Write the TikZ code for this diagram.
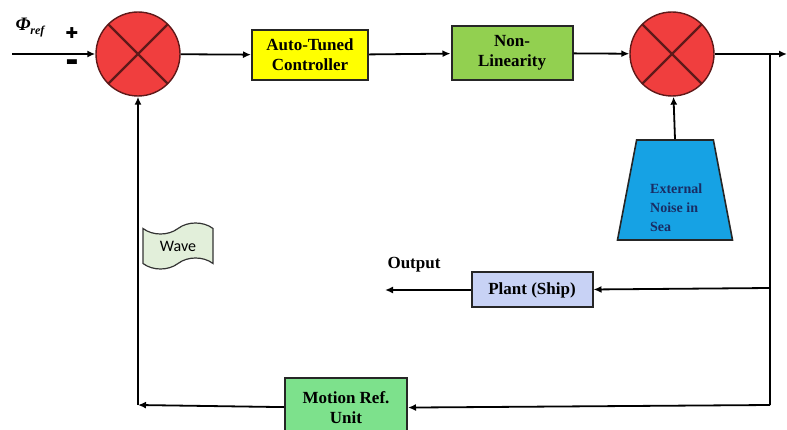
\documentclass[tikz,border=0pt]{standalone}
\usepackage{fontspec}
\setmainfont{Liberation Serif}
\newfontfamily\wavefont{Carlito}
\newfontfamily\symfont{DejaVu Sans}
\usetikzlibrary{arrows.meta, shapes.geometric, shapes.symbols, positioning}

\definecolor{sumred}{RGB}{240,62,62}
\definecolor{sumedge}{RGB}{95,25,25}
\definecolor{ctrlyellow}{RGB}{255,255,0}
\definecolor{nlgreen}{RGB}{146,208,80}
\definecolor{noiseblue}{RGB}{22,162,228}
\definecolor{noisetext}{RGB}{25,45,100}
\definecolor{plantblue}{RGB}{200,210,245}
\definecolor{motiongreen}{RGB}{125,225,140}
\definecolor{wavegreen}{RGB}{226,239,218}

\begin{document}
\begin{tikzpicture}[x=1pt, y=-1pt, font=\bfseries\fontsize{17}{20}\selectfont,
    sumnode/.style={circle, draw=sumedge, fill=sumred, line width=1.4pt,
        minimum size=84pt, inner sep=0pt,
        path picture={\draw[line width=2.2pt, sumedge]
            (path picture bounding box.north west) -- (path picture bounding box.south east)
            (path picture bounding box.north east) -- (path picture bounding box.south west);}},
    block/.style={draw=black!85, line width=2pt, align=center, inner sep=2pt},
    signal/.style={-{Latex[length=8pt,width=7pt]}, line width=1.8pt}]

\useasboundingbox (0,0) rectangle (787,430);

% Summing junctions and forward blocks
\node[sumnode] (sum1) at (138,54) {};
\node[block, fill=ctrlyellow, minimum width=116pt, minimum height=50pt] (ctrl) at (310,55) {Auto-Tuned\\Controller};
\node[block, fill=nlgreen, minimum width=121pt, minimum height=54pt] (nonlin) at (512,53) {Non-\\Linearity};
\node[sumnode] (sum2) at (672,54) {};

% Disturbance
\node[trapezium, trapezium stretches=true, trapezium angle=76, draw=black!85, line width=1.6pt,
      fill=noiseblue, minimum width=115pt, minimum height=100pt] (noise) at (675,190) {};
\node[anchor=west, align=left, inner sep=0pt, text=noisetext,
      font=\bfseries\fontsize{14}{19}\selectfont] (noisetxt) at (650,208) {External\\Noise in\\Sea};

% Plant and feedback blocks
\node[block, fill=plantblue, minimum width=121pt, minimum height=35pt] (plant) at (532,290) {Plant (Ship)};
\node[block, fill=motiongreen, minimum width=122pt, minimum height=60pt] (motion) at (346,408) {Motion Ref.\\Unit};
\node[tape, draw=black!80, line width=1.2pt, fill=wavegreen, minimum width=70pt, minimum height=46pt,
      tape bend height=11pt, font=\wavefont\fontsize{16}{18}\selectfont] (wave) at (178,246) {Wave};

% Labels
\node (phi) at (30,28) {\itshape\fontsize{19}{20}\selectfont Φ\raisebox{-4pt}{\fontsize{12}{12}\selectfont ref}};
\node (plus) at (72,33) {\symfont\fontsize{15}{15}\selectfont ✚};
\node (minus) at (72,63) {\symfont\fontsize{13}{13}\selectfont ▬};
\node (outlbl) at (414,265) {Output};

% Corner points
\coordinate (in) at (12,54);
\coordinate (out) at (787,54);
\coordinate (branch) at (770,54);
\coordinate (corner) at (770,405);
\coordinate (plantin) at (770,288);
\coordinate (yout) at (385,290);
\coordinate (back) at (138,405);

% Signals
\draw[signal] (in) -- (sum1);
\draw[signal] (sum1) -- (ctrl);
\draw[signal] (ctrl) -- (nonlin);
\draw[signal] (nonlin) -- (sum2);
\draw[signal] (sum2) -- (out);
\draw[signal] (noise.north) -- (sum2);
\draw[line width=1.8pt] (branch) -- (corner);
\draw[signal] (plantin) -- (plant);
\draw[signal] (plant) -- (yout);
\draw[signal] (corner) -- (motion);
\draw[signal] (motion) -- (back);
\draw[signal] (back) -- (sum1);

\end{tikzpicture}
\end{document}
